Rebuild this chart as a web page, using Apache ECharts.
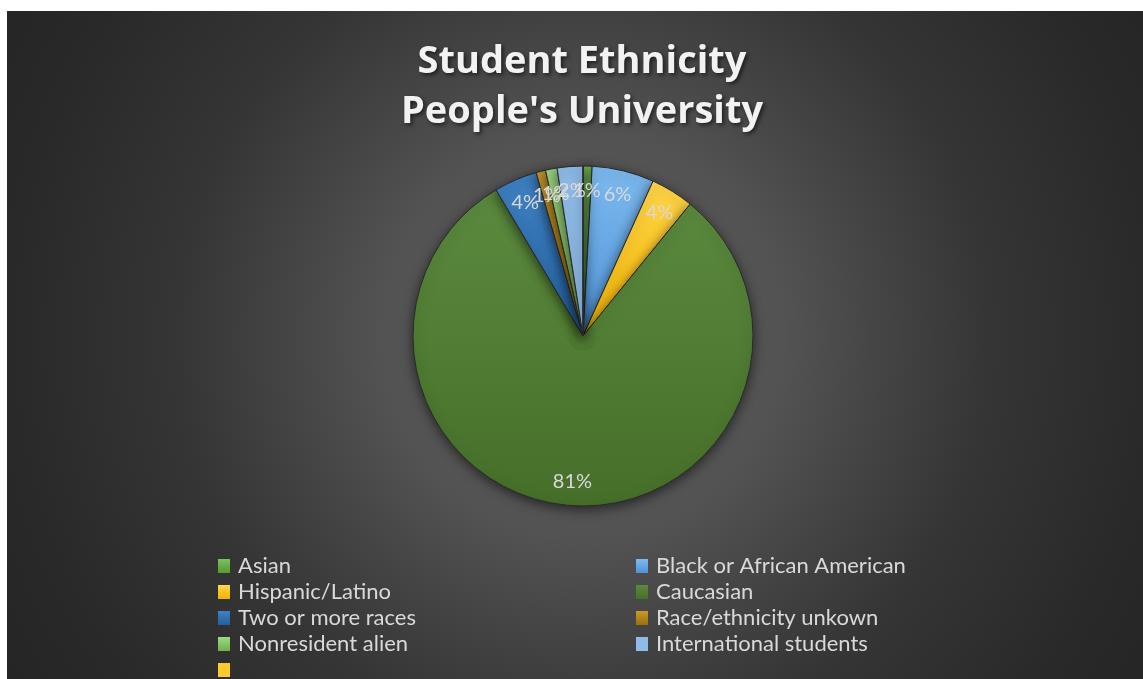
<!DOCTYPE html>
<html>
<head>
<meta charset="utf-8">
<script src="https://cdn.jsdelivr.net/npm/echarts@6/dist/echarts.min.js"></script>
<style>
html,body{margin:0;padding:0;background:#ffffff;width:1143px;height:679px;overflow:hidden;}
#chart{position:absolute;left:7px;top:11px;width:1136px;height:668px;}
</style>
</head>
<body>
<div id="chart"></div>
<script>
const titleLines = ['Student Ethnicity', "People's University"];
const categories = ['Asian', 'Black or African American', 'Hispanic/Latino', 'Caucasian', 'Two or more races', 'Race/ethnicity unkown', 'Nonresident alien', 'International students', ' '];
const values = [86, 590, 410, 8060, 410, 90, 110, 244, 0];
const lightColors = ['#7cc25a', '#7dbaf0', '#ffd54a', '#5b8a3e', '#3f82c4', '#c99a2a', '#a0d884', '#8fbbe8', '#ffca2c'];
const colors = ['#529a36', '#4f93d6', '#f2b400', '#466f29', '#245f9c', '#98700c', '#6fb24c', '#8fbbe8', '#ffca2c'];

const leftLegend = [categories[0], categories[2], categories[4], categories[6], categories[8]];
const rightLegend = [categories[1], categories[3], categories[5], categories[7]];

const pieData = categories.map((n, i) => ({
  name: n, value: values[i],
  itemStyle: {
    color: {
      type: 'linear', x: 0, y: 0, x2: 0, y2: 1,
      colorStops: [{ offset: 0, color: lightColors[i] }, { offset: 1, color: colors[i] }]
    }
  }
}));
const labelData = categories.map((n, i) => ({
  name: n, value: values[i],
  label: { show: values[i] > 0 }
}));

const chart = echarts.init(document.getElementById('chart'));
const legendText = { color: '#d9d9d9', fontSize: 22, fontFamily: 'Lato', lineHeight: 20, padding: [0, 0, 0, 3] };
chart.setOption({
  backgroundColor: {
    type: 'radial', x: 0.507, y: 0.487, r: 1,
    colorStops: [
      { offset: 0, color: '#5a5a5a' },
      { offset: 0.3, color: '#535353' },
      { offset: 0.43, color: '#464646' },
      { offset: 0.61, color: '#353535' },
      { offset: 0.86, color: '#292929' },
      { offset: 1, color: '#252525' }
    ]
  },
  animation: false,
  title: {
    text: titleLines.join('\n'),
    left: 570,
    textAlign: 'center',
    top: 21,
    textStyle: {
      color: '#f2f2f2', fontSize: 38, fontWeight: 'bold', fontFamily: 'Open Sans',
      lineHeight: 50,
      textShadowColor: 'rgba(0,0,0,0.6)', textShadowBlur: 4, textShadowOffsetX: 2, textShadowOffsetY: 2
    }
  },
  legend: [
    { data: leftLegend, orient: 'vertical', left: 211, top: 544, height: 140, itemGap: 4, itemWidth: 12, itemHeight: 14,
      icon: 'rect', textStyle: legendText, selectedMode: false, padding: 0, itemStyle: { borderWidth: 0, shadowBlur: 0 } },
    { data: rightLegend, orient: 'vertical', left: 629, top: 544, height: 140, itemGap: 4, itemWidth: 12, itemHeight: 14,
      icon: 'rect', textStyle: legendText, selectedMode: false, padding: 0, itemStyle: { borderWidth: 0, shadowBlur: 0 } }
  ],
  series: [
    {
      type: 'pie', center: [576, 325], radius: [0, 170], startAngle: 90, clockwise: true,
      percentPrecision: 0,
      data: pieData,
      label: { show: false }, labelLine: { show: false },
      itemStyle: { borderColor: '#2a2a2a', borderWidth: 1, shadowBlur: 12, shadowColor: 'rgba(0,0,0,0.55)', shadowOffsetY: 3 },
      emphasis: { disabled: true }
    },
    {
      type: 'pie', center: [576, 325], radius: [115, 170], startAngle: 90, clockwise: true,
      percentPrecision: 0, silent: true,
      data: labelData,
      itemStyle: { color: 'rgba(0,0,0,0)', borderWidth: 0 },
      label: { show: true, position: 'inside', formatter: '{d}%', color: '#d9d9d9', fontSize: 20, fontFamily: 'Lato' },
      labelLayout: { hideOverlap: false },
      labelLine: { show: false },
      emphasis: { disabled: true }
    }
  ]
});
</script>
</body>
</html>
